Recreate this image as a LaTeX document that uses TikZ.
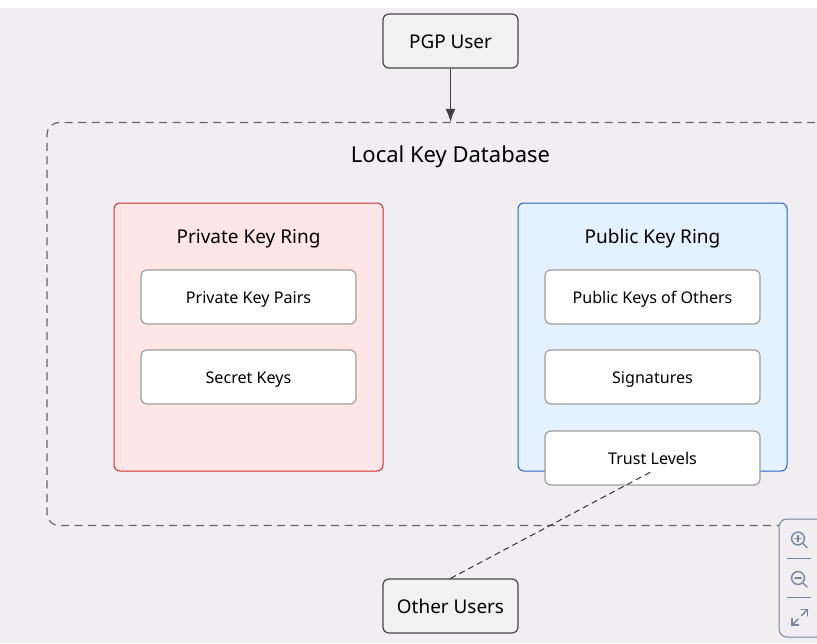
\documentclass[tikz,border=0pt]{standalone}
\usepackage{fontspec}
\setmainfont{Noto Sans}
\definecolor{canvas}{HTML}{F0EEF0}
\definecolor{outerfill}{HTML}{F1F1F1}
\definecolor{privfill}{HTML}{FFE6E6}
\definecolor{privline}{HTML}{CF2F2F}
\definecolor{pubfill}{HTML}{E4F1FE}
\definecolor{publine}{HTML}{2A62C8}
\definecolor{toolline}{HTML}{7A849A}
\usetikzlibrary{arrows.meta}
\tikzset{
  actor/.style={draw=black!72,line width=1.2pt,fill=outerfill,rounded corners=6pt,minimum width=135pt,minimum height=54pt,inner sep=0pt,text height=15pt,text depth=0pt,font=\fontsize{18.9}{20}\selectfont},
  ring/.style={draw,line width=1pt,rounded corners=6pt,minimum width=269pt,minimum height=268pt,inner sep=0pt},
  item/.style={draw=black!38,line width=1.2pt,fill=white,rounded corners=6pt,minimum width=215pt,minimum height=54pt,inner sep=0pt,text height=13.4pt,text depth=0pt,font=\fontsize{16.1}{18}\selectfont},
  grouptitle/.style={inner sep=0pt,text height=15pt,text depth=0pt,font=\fontsize{19}{20}\selectfont},
  toolicon/.style={draw=toolline,line width=1.4pt,line cap=round},
}
\begin{document}
\begin{tikzpicture}[x=1pt,y=-1pt]
\useasboundingbox (0,0) rectangle (817,643);
\clip (0,0) rectangle (817,643);
\fill[canvas] (0,8) rectangle (817,643);

% database
\node[draw=black!60,line width=1.2pt,dash pattern=on 8pt off 5.5pt,rounded corners=12pt,minimum width=807pt,minimum height=403pt,inner sep=0pt] (db) at (450.5,324) {};
\node[inner sep=0pt,text height=17pt,text depth=0pt,font=\fontsize{22}{24}\selectfont] (dbtitle) at (450.5,154) {Local Key Database};

% private ring
\begin{scope}
\node[ring,draw=privline,fill=privfill] (privring) at (248.5,337) {};
\node[grouptitle] (privtitle) at (248.5,236) {Private Key Ring};
\node[item] (privpairs) at (248.5,297) {Private Key Pairs};
\node[item] (secret) at (248.5,377) {Secret Keys};
\end{scope}

% public ring
\begin{scope}
\node[ring,draw=publine,fill=pubfill] (pubring) at (652.5,337) {};
\node[grouptitle] (pubtitle) at (652.5,236) {Public Key Ring};
\node[item] (pubothers) at (652.5,297) {Public Keys of Others};
\node[item] (signatures) at (652.5,377) {Signatures};
\node[item] (trust) at (652.5,458) {Trust Levels};
\end{scope}

\node[actor] (user) at (450.5,41) {PGP User};
\node[actor] (others) at (450.5,606) {Other Users};

\coordinate (trustend) at (652.5,471);
\draw[-{Latex[length=13pt,width=10pt]},black!75,line width=1.2pt] (user) -- (db.north);
\draw[black!80,line width=1pt,dash pattern=on 6pt off 4pt] (others.north) -- (trustend);

% zoom controls
\node[draw=toolline,line width=1pt,fill=canvas,rounded corners=8pt,minimum width=46pt,minimum height=118pt,inner sep=0pt] (tools) at (802,578) {};
\draw[toolline,line width=.8pt] (787,558) -- (811,558);
\draw[toolline,line width=.8pt] (787,597.5) -- (811,597.5);
\draw[toolicon] (798,538.5) circle (6.4);
\draw[toolicon] (803,543.5) -- (807,547.5);
\draw[toolicon] (795,538.5) -- (801,538.5);
\draw[toolicon] (798,535.5) -- (798,541.5);
\draw[toolicon] (798,578) circle (6.4);
\draw[toolicon] (803,583) -- (807,587);
\draw[toolicon] (795,578) -- (801,578);
\draw[toolicon] (792,625) -- (798,619);
\draw[toolicon] (801.5,615.5) -- (807.5,609.5);
\draw[toolicon] (801,609.5) -- (807.5,609.5) -- (807.5,616);
\draw[toolicon] (792,618.5) -- (792,625) -- (798.5,625);
\end{tikzpicture}
\end{document}
